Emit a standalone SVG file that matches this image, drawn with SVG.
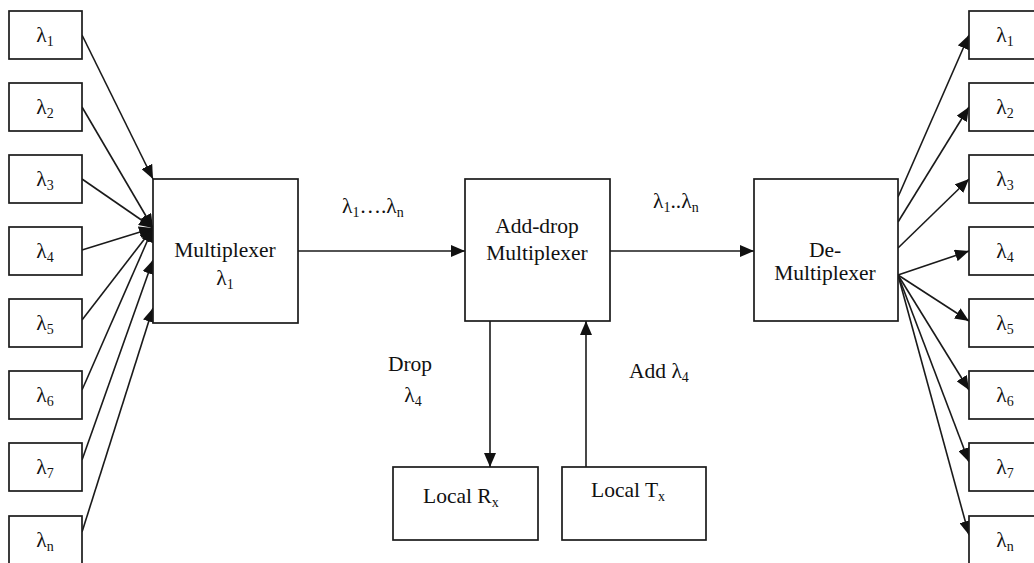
<svg xmlns="http://www.w3.org/2000/svg" width="1034" height="563" viewBox="0 0 1034 563">
<style>
.box{fill:#fff;stroke:#1a1a1a;stroke-width:1.7}
.ln{stroke:#1a1a1a;stroke-width:1.6;fill:none;marker-end:url(#ah)}
.t{font-family:'Liberation Serif','DejaVu Serif',serif;font-size:21.5px;fill:#111}
.c{text-anchor:middle}
.s{font-size:14px}
</style>
<defs>
<marker id="ah" markerUnits="userSpaceOnUse" markerWidth="14" markerHeight="12" refX="14" refY="6" orient="auto">
<path d="M0,0 L14,6 L0,12 z" fill="#111"/>
</marker>
</defs>
<rect width="1034" height="563" fill="#fff"/>
<g id="connectors">
<line class="ln" x1="82" y1="35" x2="153" y2="179"/>
<line class="ln" x1="82" y1="107" x2="153" y2="228"/>
<line class="ln" x1="82" y1="179" x2="153" y2="228"/>
<line class="ln" x1="82" y1="250" x2="153" y2="228"/>
<line class="ln" x1="82" y1="320" x2="153" y2="228"/>
<line class="ln" x1="82" y1="390" x2="153" y2="228"/>
<line class="ln" x1="82" y1="460" x2="153" y2="260"/>
<line class="ln" x1="82" y1="532" x2="153" y2="308"/>
<line class="ln" x1="298" y1="251" x2="465" y2="251"/>
<line class="ln" x1="610" y1="251" x2="754" y2="251"/>
<line class="ln" x1="490" y1="321" x2="490" y2="467"/>
<line class="ln" x1="586" y1="467" x2="586" y2="321"/>
<line class="ln" x1="898" y1="197" x2="969" y2="35"/>
<line class="ln" x1="898" y1="222" x2="969" y2="107"/>
<line class="ln" x1="898" y1="248" x2="969" y2="179"/>
<line class="ln" x1="898" y1="275" x2="969" y2="251"/>
<line class="ln" x1="898" y1="275" x2="969" y2="321"/>
<line class="ln" x1="898" y1="275" x2="969" y2="390"/>
<line class="ln" x1="898" y1="275" x2="969" y2="462"/>
<line class="ln" x1="898" y1="275" x2="969" y2="535"/>
</g>
<g id="in1"><rect class="box" x="9" y="11" width="73" height="48"/><text class="t c" x="45" y="42">λ<tspan class="s" dy="4">1</tspan></text></g>
<g id="in2"><rect class="box" x="9" y="83" width="73" height="48"/><text class="t c" x="45" y="114">λ<tspan class="s" dy="4">2</tspan></text></g>
<g id="in3"><rect class="box" x="9" y="155" width="73" height="48"/><text class="t c" x="45" y="186">λ<tspan class="s" dy="4">3</tspan></text></g>
<g id="in4"><rect class="box" x="9" y="227" width="73" height="48"/><text class="t c" x="45" y="258">λ<tspan class="s" dy="4">4</tspan></text></g>
<g id="in5"><rect class="box" x="9" y="299" width="73" height="48"/><text class="t c" x="45" y="330">λ<tspan class="s" dy="4">5</tspan></text></g>
<g id="in6"><rect class="box" x="9" y="371" width="73" height="48"/><text class="t c" x="45" y="402">λ<tspan class="s" dy="4">6</tspan></text></g>
<g id="in7"><rect class="box" x="9" y="443" width="73" height="48"/><text class="t c" x="45" y="474">λ<tspan class="s" dy="4">7</tspan></text></g>
<g id="in8"><rect class="box" x="9" y="516" width="73" height="50"/><text class="t c" x="45" y="547">λ<tspan class="s" dy="4">n</tspan></text></g>
<g id="mux"><rect class="box" x="153" y="179" width="145" height="144"/><text class="t c" x="225" y="257">Multiplexer</text><text class="t c" x="225" y="285">λ<tspan class="s" dy="4">1</tspan></text></g>
<text class="t" x="342" y="213">λ<tspan class="s" dy="4">1</tspan><tspan dy="-4">….λ</tspan><tspan class="s" dy="4">n</tspan></text>
<g id="adm"><rect class="box" x="465" y="179" width="145" height="142"/><text class="t c" x="537" y="233">Add-drop</text><text class="t c" x="537" y="260">Multiplexer</text></g>
<text class="t" x="653" y="208">λ<tspan class="s" dy="4">1</tspan><tspan dy="-4">..λ</tspan><tspan class="s" dy="4">n</tspan></text>
<g id="demux"><rect class="box" x="754" y="179" width="144" height="142"/><text class="t c" x="825" y="257">De-</text><text class="t c" x="825" y="280">Multiplexer</text></g>
<text class="t c" x="410" y="371">Drop</text>
<text class="t c" x="413" y="402">λ<tspan class="s" dy="4">4</tspan></text>
<text class="t" x="629" y="378">Add λ<tspan class="s" dy="4">4</tspan></text>
<g id="rx"><rect class="box" x="393" y="467" width="145" height="73"/><text class="t" x="423" y="503">Local R<tspan class="s" dy="4">x</tspan></text></g>
<g id="tx"><rect class="box" x="562" y="467" width="144" height="73"/><text class="t" x="591" y="497">Local T<tspan class="s" dy="4">x</tspan></text></g>
<g id="out1"><rect class="box" x="969" y="11" width="73" height="48"/><text class="t c" x="1005" y="42">λ<tspan class="s" dy="4">1</tspan></text></g>
<g id="out2"><rect class="box" x="969" y="83" width="73" height="48"/><text class="t c" x="1005" y="114">λ<tspan class="s" dy="4">2</tspan></text></g>
<g id="out3"><rect class="box" x="969" y="155" width="73" height="48"/><text class="t c" x="1005" y="186">λ<tspan class="s" dy="4">3</tspan></text></g>
<g id="out4"><rect class="box" x="969" y="227" width="73" height="48"/><text class="t c" x="1005" y="258">λ<tspan class="s" dy="4">4</tspan></text></g>
<g id="out5"><rect class="box" x="969" y="299" width="73" height="48"/><text class="t c" x="1005" y="330">λ<tspan class="s" dy="4">5</tspan></text></g>
<g id="out6"><rect class="box" x="969" y="371" width="73" height="48"/><text class="t c" x="1005" y="402">λ<tspan class="s" dy="4">6</tspan></text></g>
<g id="out7"><rect class="box" x="969" y="443" width="73" height="48"/><text class="t c" x="1005" y="474">λ<tspan class="s" dy="4">7</tspan></text></g>
<g id="out8"><rect class="box" x="969" y="516" width="73" height="50"/><text class="t c" x="1005" y="547">λ<tspan class="s" dy="4">n</tspan></text></g>
</svg>
